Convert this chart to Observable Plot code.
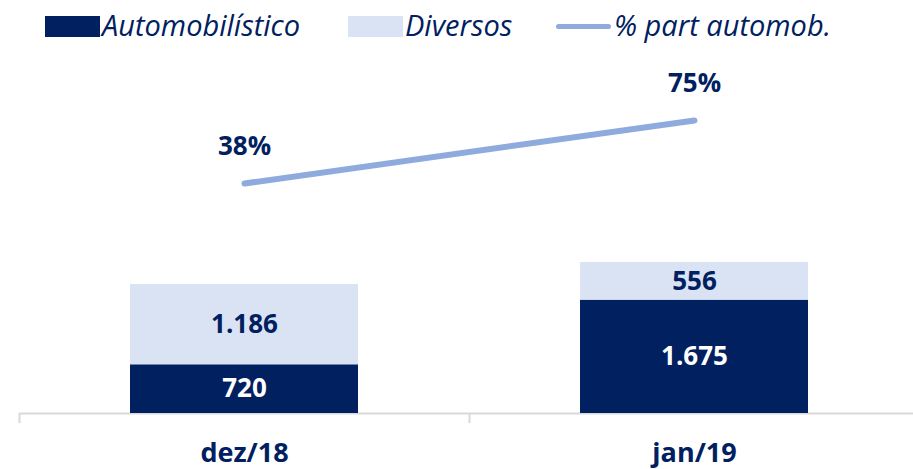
<!DOCTYPE html>
<html>
<head>
<meta charset="utf-8">
<script src="https://cdn.jsdelivr.net/npm/d3@7"></script>
<script src="https://cdn.jsdelivr.net/npm/@observablehq/plot@0.6"></script>
<style>
  body { margin: 0; background: #fff; font-family: "Open Sans", sans-serif; }
  #legend { position: relative; width: 913px; height: 40px; }
  #legend .sw { position: absolute; }
  #legend .lbl { position: absolute; font-style: italic; font-size: 29px; color: #002060; line-height: 34px; top: 8px; white-space: nowrap; }
  #chart svg { display: block; }
</style>
</head>
<body>
<div id="legend"></div>
<div id="chart"></div>
<script>
// ---- data ----
const periods = ["dez/18", "jan/19"];
const seriesNames = ["Automobilístico", "Diversos"];
const automobilistico = [720, 1675];
const diversos = [1186, 556];
const partAutomob = [38, 75];          // %
const lineLabel = "% part automob.";

// ---- styles ----
const DARK = "#002060", LIGHT = "#DAE3F3", LINE = "#8FAADC", AXIS = "#D9D9D9";
const seriesColors = [DARK, LIGHT];
const labelColors = ["#ffffff", DARK];

// ---- legend ----
const legend = document.getElementById("legend");
legend.innerHTML = `
  <div class="sw" style="left:45px;top:16px;width:55px;height:21px;background:${DARK}"></div>
  <div class="lbl" style="left:102px">${seriesNames[0]}</div>
  <div class="sw" style="left:348px;top:16px;width:55px;height:21px;background:${LIGHT}"></div>
  <div class="lbl" style="left:405px">${seriesNames[1]}</div>
  <div class="sw" style="left:556px;top:24px;width:55px;height:5px;border-radius:3px;background:${LINE}"></div>
  <div class="lbl" style="left:614px">${lineLabel}</div>
`;

// ---- table ----
const rows = [];
periods.forEach((p, i) => {
  rows.push({period: p, series: seriesNames[0], value: automobilistico[i], idx: 0});
  rows.push({period: p, series: seriesNames[1], value: diversos[i], idx: 1});
});
const lineRows = periods.map((p, i) => ({period: p, pct: partAutomob[i]}));

const fmt = d3.formatLocale({decimal: ",", thousands: ".", grouping: [3], currency: ["R$", ""]}).format(",d");

// secondary axis: percentage mapped into the bar value space
const pctToY = d3.scaleLinear().domain([0, 100]).range([2442, 4961]);

const chart = Plot.plot({
  width: 913,
  height: 429,
  marginTop: 0,
  marginBottom: 56,
  marginLeft: 19,
  marginRight: 0,
  style: {fontFamily: "'Open Sans', sans-serif", background: "#fff", overflow: "visible"},
  x: {type: "band", domain: periods, range: [19, 919], paddingInner: 0.493, paddingOuter: 0.2465, axis: null},
  y: {domain: [0, 5513], axis: null},
  marks: [
    Plot.ruleY([0], {stroke: AXIS, strokeWidth: 2}),
    Plot.ruleX(periods, {x: d => d, y1: 0, y2: -150, dx: -225, stroke: AXIS, strokeWidth: 2}),
    Plot.barY(rows, {x: "period", y: "value", fill: d => seriesColors[d.idx], order: seriesNames}),
    Plot.text(rows, Plot.stackY({
      x: "period", y: "value", order: seriesNames,
      text: d => fmt(d.value),
      fill: d => labelColors[d.idx],
      fontSize: 26, fontWeight: "bold"
    })),
    Plot.text(periods, {x: d => d, y: 0, dy: 40, text: d => d, fill: DARK, fontSize: 27, fontWeight: "bold"}),
    Plot.line(lineRows, {x: "period", y: d => pctToY(d.pct), stroke: LINE, strokeWidth: 6, strokeLinecap: "round"}),
    Plot.text(lineRows, {x: "period", y: d => pctToY(d.pct), dy: -37, text: d => d.pct + "%", fill: DARK, fontSize: 26, fontWeight: "bold"})
  ]
});
document.getElementById("chart").appendChild(chart);
</script>
</body>
</html>
